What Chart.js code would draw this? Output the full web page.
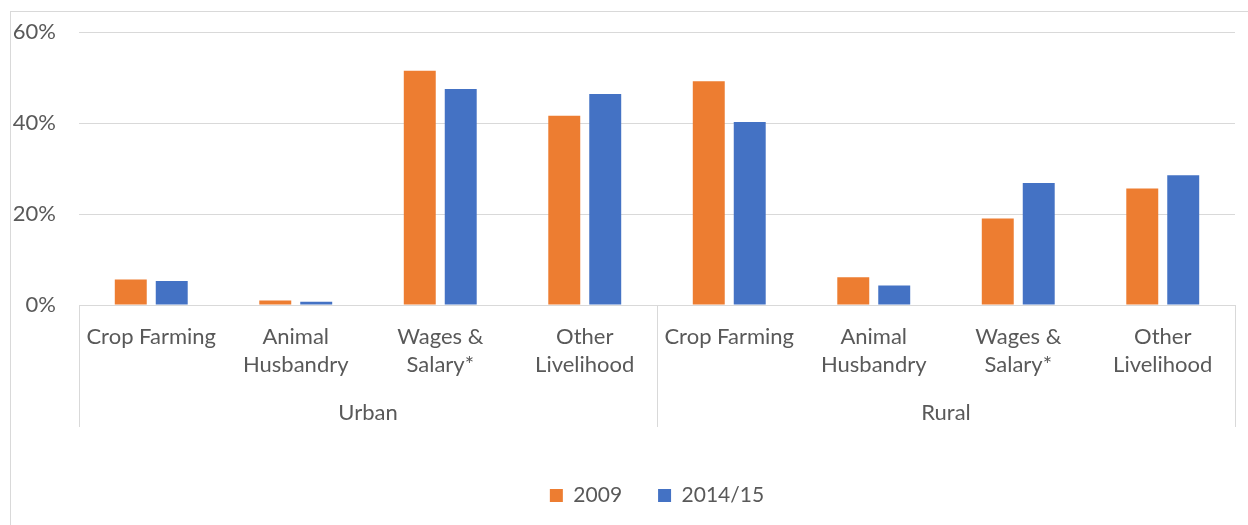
<!DOCTYPE html>
<html>
<head>
<meta charset="utf-8">
<script src="https://cdn.jsdelivr.net/npm/chart.js@4/dist/chart.umd.min.js"></script>
<style>
  html, body { margin: 0; padding: 0; background: #fff; }
  #wrap { position: relative; width: 1248px; height: 525px; overflow: hidden; }
  #frame { position: absolute; left: 10px; top: 11px; width: 1300px; height: 600px; border: 1px solid #d9d9d9; }
  canvas { position: absolute; left: 0; top: 0; }
</style>
</head>
<body>
<div id="wrap">
  <div id="frame"></div>
  <canvas id="myChart" width="1248" height="525"></canvas>
</div>
<script>
const categories = [
  'Crop Farming', ['Animal', 'Husbandry'], ['Wages &', 'Salary*'], ['Other', 'Livelihood'],
  'Crop Farming', ['Animal', 'Husbandry'], ['Wages &', 'Salary*'], ['Other', 'Livelihood'],
];
const groups = ['Urban', 'Rural'];
const values2009 = [5.6, 1.0, 51.5, 41.6, 49.2, 6.1, 19.0, 25.6];
const values2014 = [5.3, 0.7, 47.5, 46.4, 40.2, 4.3, 26.8, 28.5];

const textColor = '#595959';
const lineColor = '#d9d9d9';
const font = { family: 'Lato', size: 22, lineHeight: 1.27 };

// vertical separators for the grouped category axis
const separators = {
  id: 'separators',
  afterDraw(chart) {
    const { ctx, chartArea, scales } = chart;
    const x = scales.x;
    const mid = (x.getPixelForTick(3) + x.getPixelForTick(4)) / 2;
    ctx.save();
    ctx.strokeStyle = lineColor;
    ctx.lineWidth = 1;
    [chartArea.left, mid, chartArea.right].forEach((px) => {
      const p = Math.round(px) + 0.5;
      ctx.beginPath();
      ctx.moveTo(p, chartArea.bottom);
      ctx.lineTo(p, 427);
      ctx.stroke();
    });
    ctx.restore();
  },
};

Chart.defaults.color = textColor;
Chart.defaults.font.family = 'Lato';

new Chart(document.getElementById('myChart'), {
  type: 'bar',
  data: {
    labels: categories,
    datasets: [
      { label: '2009', data: values2009, backgroundColor: '#ED7D31' },
      { label: '2014/15', data: values2014, backgroundColor: '#4472C4' },
    ],
  },
  options: {
    responsive: false,
    animation: false,
    categoryPercentage: 0.567,
    barPercentage: 0.78,
    layout: { padding: { top: 32, right: 13, bottom: 16, left: 0 } },
    scales: {
      y: {
        min: 0,
        max: 60,
        ticks: { stepSize: 20, callback: (v) => v + '%', font, padding: 23, color: textColor },
        grid: { color: lineColor, drawTicks: false },
        border: { display: false },
        afterFit: (s) => { s.width = 79; s.paddingTop = 0; s.paddingBottom = 0; },
      },
      x: {
        weight: 0,
        ticks: { font, padding: 18, maxRotation: 0, autoSkip: false, color: textColor },
        grid: { display: false, drawTicks: false },
        border: { display: false },
        afterFit: (s) => { s.height = 85; },
      },
      x2: {
        type: 'category',
        labels: groups,
        position: 'bottom',
        offset: true,
        weight: 1,
        ticks: { font, padding: 9, color: textColor },
        grid: { display: false, drawTicks: false },
        border: { display: false },
        afterFit: (s) => { s.height = 59; },
      },
    },
    plugins: {
      legend: {
        position: 'bottom',
        fullSize: false,
        maxHeight: 60,
        labels: { boxWidth: 13, boxHeight: 13, padding: 36, font: { family: 'Lato', size: 21 }, color: textColor },
      },
      tooltip: { enabled: false },
    },
  },
  plugins: [separators],
});
</script>
</body>
</html>
